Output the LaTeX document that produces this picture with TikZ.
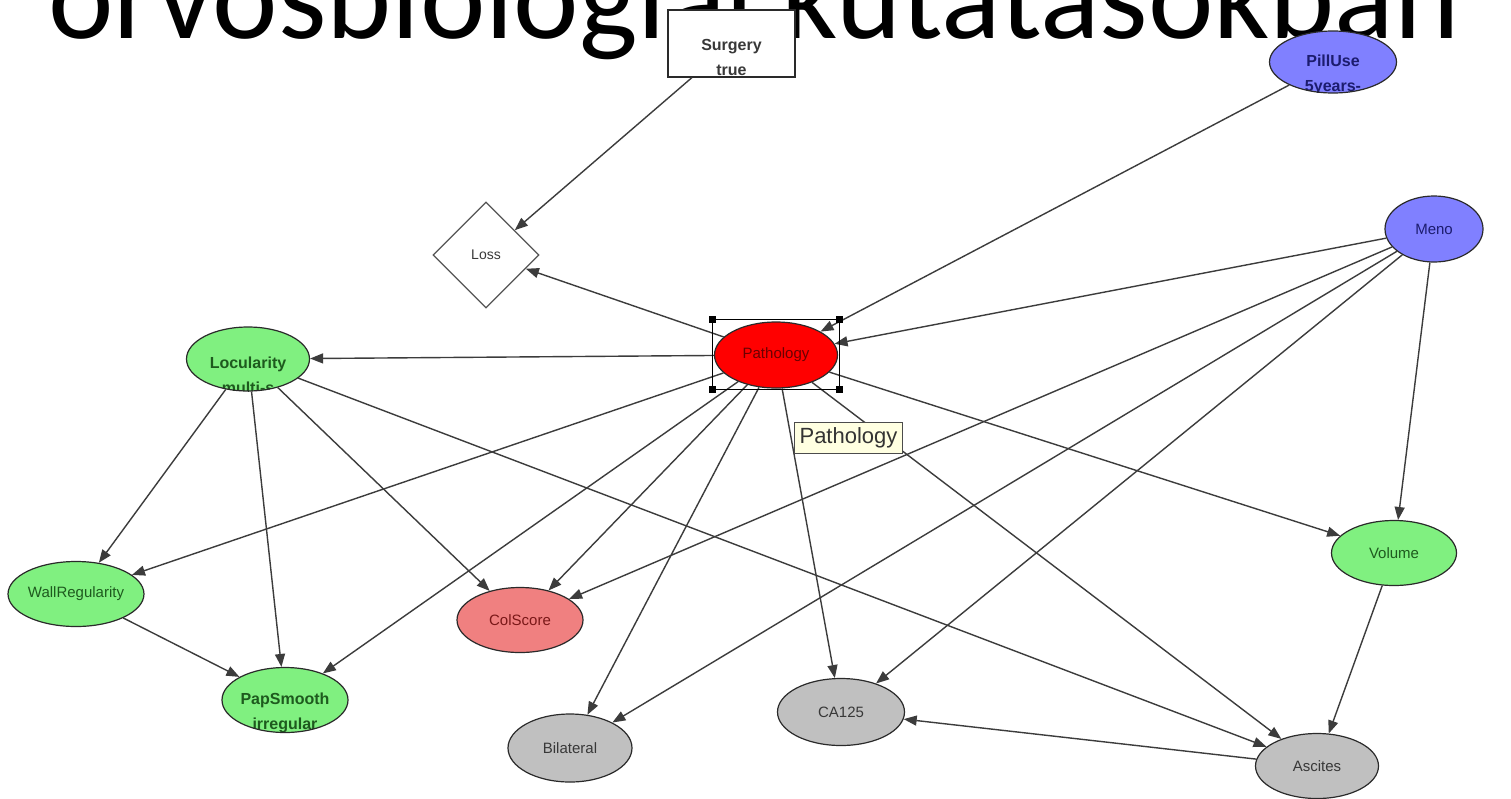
\documentclass[tikz,border=0pt]{standalone}
\usepackage{fontspec}
\setmainfont{Liberation Sans}
\newfontfamily\titlefont{Carlito}
\usetikzlibrary{shapes.geometric,arrows.meta}

\definecolor{edgecol}{HTML}{3C3C3C}
\definecolor{bordercol}{HTML}{2A2A2A}
\definecolor{greenfill}{HTML}{80F080}
\definecolor{greentext}{HTML}{1E5A1E}
\definecolor{bluefill}{HTML}{8080FF}
\definecolor{bluetext}{HTML}{1C1C6E}
\definecolor{redfill}{HTML}{FF0000}
\definecolor{redtext}{HTML}{6A0000}
\definecolor{salmonfill}{HTML}{F08080}
\definecolor{salmontext}{HTML}{7A1818}
\definecolor{grayfill}{HTML}{C0C0C0}
\definecolor{graytext}{HTML}{383838}
\definecolor{tipfill}{HTML}{FFFFE1}

\begin{document}
\begin{tikzpicture}[x=1pt,y=-1pt,
  lblfont/.style={font=\fontsize{15}{17}\selectfont},
  ell/.style={ellipse, draw=bordercol, line width=1.2pt, inner sep=0pt, lblfont},
  greennode/.style={ell, fill=greenfill, text=greentext},
  bluenode/.style={ell, fill=bluefill, text=bluetext},
  rednode/.style={ell, fill=redfill, text=redtext},
  salmonnode/.style={ell, fill=salmonfill, text=salmontext},
  graynode/.style={ell, fill=grayfill, text=graytext},
  % two-line state labels, clipped by the node outline
  twoline/.style n args={3}{path picture={
    \node[font=\bfseries\fontsize{16}{25}\selectfont, align=center, text=#1]
      at ([yshift=#2]path picture bounding box.center) {#3};}},
  link/.style={draw=edgecol, line width=1.4pt, -{Triangle[length=13pt,width=10pt]}},
  handle/.style={rectangle, fill=black, inner sep=0pt, minimum size=7pt},
]
\useasboundingbox (0,0) rectangle (1511,798);
\clip (0,0) rectangle (1511,798);
\fill[white] (0,0) rectangle (1511,798);

% heading, only its lower part falls inside the page
\node[anchor=base west, inner sep=0pt, font=\titlefont\fontsize{124}{130}\selectfont]
  (heading) at (48,38) {orvosbiológiai kutatásokban};

% decision and utility nodes
\node[rectangle, draw=bordercol, fill=white, line width=1.4pt, inner sep=0pt,
      minimum width=127pt, minimum height=67pt,
      twoline={graytext}{-13.5pt}{Surgery\\true}] (surg) at (731.5,43.5) {};
\node[diamond, draw=bordercol!80, fill=white, line width=1.2pt, inner sep=0pt,
      minimum width=106pt, minimum height=106pt, text=graytext,
      font=\fontsize{14}{16}\selectfont] (loss) at (486,255) {Loss};

% chance nodes
\node[bluenode, minimum width=127pt, minimum height=62pt,
      twoline={bluetext}{-13pt}{PillUse\\5years-}] (pill) at (1333,62) {};
\node[bluenode, minimum width=98pt, minimum height=66pt] (meno) at (1434,229) {Meno};
\node[rednode, minimum width=123pt, minimum height=66pt] (path) at (776,355) {Pathology};
\node[greennode, minimum width=123pt, minimum height=64pt,
      twoline={greentext}{-16pt}{Locularity\\multi-s}] (loc) at (248,359) {};
\node[greennode, minimum width=125pt, minimum height=65pt] (wall) at (76,594) {WallRegularity};
\node[greennode, minimum width=126pt, minimum height=65pt,
      twoline={greentext}{-13pt}{PapSmooth\\irregular}] (pap) at (285,700) {};
\node[salmonnode, minimum width=126pt, minimum height=65pt] (col) at (520,620) {ColScore};
\node[greennode, minimum width=125pt, minimum height=65pt] (vol) at (1394,553) {Volume};
\node[graynode, minimum width=124pt, minimum height=68pt] (bil) at (570,748) {Bilateral};
\node[graynode, minimum width=127pt, minimum height=67pt] (ca) at (841,712) {CA125};
\node[graynode, minimum width=123pt, minimum height=65pt] (asc) at (1317,766) {Ascites};

% arcs
\path[link] (surg) -- (loss);
\path[link] (path) -- (loss);
\path[link] (pill) -- (path);
\path[link] (meno) -- (path);
\path[link] (path) -- (loc);
\path[link] (path) -- (wall);
\path[link] (path) -- (pap);
\path[link] (path) -- (col);
\path[link] (path) -- (bil);
\path[link] (path) -- (ca);
\path[link] (path) -- (asc);
\path[link] (path) -- (vol);
\path[link] (loc) -- (wall);
\path[link] (loc) -- (pap);
\path[link] (loc) -- (col);
\path[link] (loc) -- (asc);
\path[link] (wall) -- (pap);
\path[link] (meno) -- (col);
\path[link] (meno) -- (bil);
\path[link] (meno) -- (ca);
\path[link] (meno) -- (vol);
\path[link] (vol) -- (asc);
\path[link] (asc) -- (ca);

% selection frame round the Pathology node
\draw[black, line width=1pt] (712,319) rectangle (839,389);
\node[handle] (h1) at (712,319) {};
\node[handle] (h2) at (839,319) {};
\node[handle] (h3) at (712,389) {};
\node[handle] (h4) at (839,389) {};

% hover tooltip
\node[rectangle, draw=black!70, fill=tipfill, line width=0.8pt, inner sep=0pt,
      minimum width=108pt, minimum height=31pt, text=black!80,
      font=\fontsize{22}{24}\selectfont] (tip) at (848.5,437.5) {Pathology};
\end{tikzpicture}
\end{document}
